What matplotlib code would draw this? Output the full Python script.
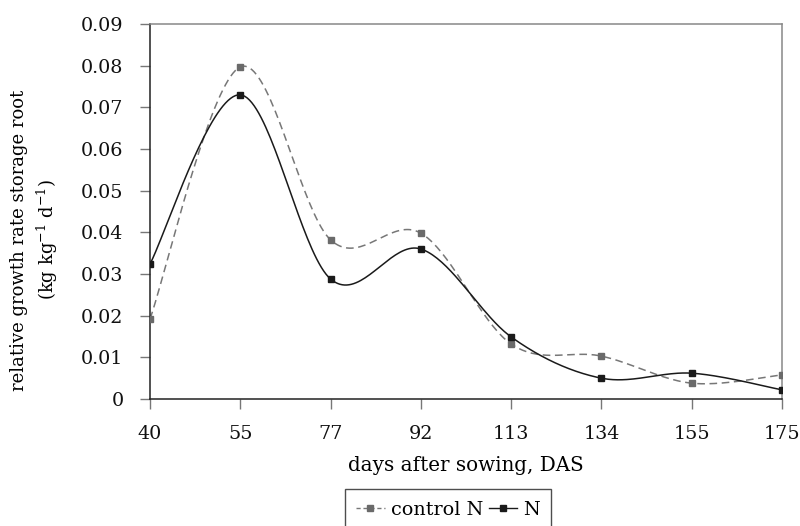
import numpy as np
import matplotlib
matplotlib.use("Agg")
import matplotlib.pyplot as plt
from matplotlib.lines import Line2D

plt.rcParams['font.family'] = ['DejaVu Serif']
plt.rcParams['mathtext.fontset'] = 'dejavuserif'

days = ["40", "55", "77", "92", "113", "134", "155", "175"]
control_N = [0.0192, 0.0797, 0.0382, 0.0398, 0.0132, 0.0103, 0.0038, 0.0058]
N = [0.0324, 0.0730, 0.0288, 0.0360, 0.0149, 0.0050, 0.0062, 0.0022]
y_ticks = [0, 0.01, 0.02, 0.03, 0.04, 0.05, 0.06, 0.07, 0.08, 0.09]
y_tick_labels = ["0", "0.01", "0.02", "0.03", "0.04", "0.05", "0.06", "0.07", "0.08", "0.09"]


def smooth(xs, ys, n=40):
    xs = np.asarray(xs, float)
    ys = np.asarray(ys, float)
    P = np.column_stack([xs, ys])
    P = np.vstack([P[0], P, P[-1]])
    out = []
    t = np.linspace(0, 1, n)[:, None]
    for i in range(1, len(P) - 2):
        p0, p1, p2, p3 = P[i - 1], P[i], P[i + 1], P[i + 2]
        c1 = p1 + (p2 - p0) / 6
        c2 = p2 - (p3 - p1) / 6
        seg = ((1 - t) ** 3) * p1 + 3 * ((1 - t) ** 2) * t * c1 + 3 * (1 - t) * t ** 2 * c2 + t ** 3 * p2
        out.append(seg if i == 1 else seg[1:])
    out = np.vstack(out)
    return out[:, 0], out[:, 1]


fs = 13.8
fig = plt.figure(figsize=(8, 5.26), dpi=100)
ax = fig.add_axes([0.1875, 0.2414, 0.79, 0.713])

x = np.arange(len(days))
gray = "#6a6a6a"
sx, sy = smooth(x, control_N)
ax.plot(sx, sy, color="#777777", lw=1.1, ls=(0, (5, 3)), zorder=2)
ax.plot(x, control_N, ls="none", marker="s", ms=5, color=gray, zorder=3)
sx, sy = smooth(x, N)
ax.plot(sx, sy, color="#1a1a1a", lw=1.1, zorder=2)
ax.plot(x, N, ls="none", marker="s", ms=5, color="#1a1a1a", zorder=4)

ax.set_xlim(0, len(days) - 1)
ax.set_ylim(0, 0.09)
ax.set_xticks(x)
ax.set_xticklabels(days)
ax.set_yticks(y_ticks)
ax.set_yticklabels(y_tick_labels)
ax.tick_params(axis='both', direction='out', length=7, width=1, color="#777777",
               labelsize=fs, labelcolor="#111111")
ax.tick_params(axis='y', pad=12)
ax.tick_params(axis='x', pad=12)
for s in ("left", "bottom"):
    ax.spines[s].set_color("#222222")
    ax.spines[s].set_linewidth(1.1)
for s in ("top", "right"):
    ax.spines[s].set_color("#888888")
    ax.spines[s].set_linewidth(1.1)

ax.set_xlabel("days after sowing, DAS", fontsize=14.3, labelpad=9)
ax.set_ylabel("relative growth rate storage root\n(kg kg$^{-1}$ d$^{-1}$)", fontsize=13.0,
              linespacing=1.35)
ax.yaxis.set_label_coords(-0.142, 0.424)

handles = [
    Line2D([], [], color="#777777", ls=(0, (3, 2)), lw=1, marker="s", ms=4,
           markerfacecolor=gray, markeredgecolor=gray),
    Line2D([], [], color="#1a1a1a", lw=1, marker="s", ms=4),
]
leg = fig.legend(handles, ["control N", "N"], loc="lower center", bbox_to_anchor=(0.56, -0.03),
                 ncol=2, frameon=True, fancybox=False, edgecolor="#222222", fontsize=fs,
                 handlelength=1.5, handletextpad=0.3, columnspacing=0.3, borderpad=0.6,
                 borderaxespad=0.6)
leg.get_frame().set_linewidth(1.0)

fig.savefig("out.png", dpi=100)
